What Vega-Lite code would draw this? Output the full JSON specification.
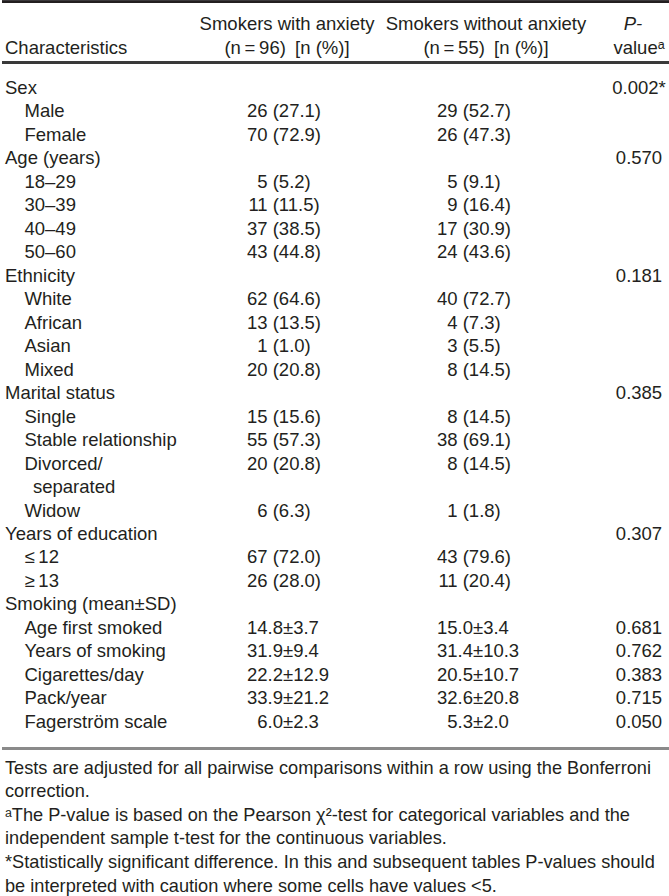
{
  "$schema": "https://vega.github.io/schema/vega-lite/v6.json",
  "padding": 0,
  "spacing": 0,
  "background": "white",
  "config": {
    "view": {"stroke": null},
    "concat": {"spacing": 0},
    "point": {},
    "text": {"font": "Liberation Sans", "fontSize": 18.5, "color": "#231f20", "baseline": "alphabetic"}
  },
  "datasets": {
    "header": [
      {"line": 1, "col": "c2", "text": "Smokers with anxiety"},
      {"line": 2, "col": "c2", "text": "(n\u2009=\u200996)\u2002[n (%)]"},
      {"line": 1, "col": "c3", "text": "Smokers without anxiety"},
      {"line": 2, "col": "c3", "text": "(n\u2009=\u200955)\u2002[n (%)]"},
      {"line": 1, "col": "pv", "text": "P-"},
      {"line": 2, "col": "pv", "text": "value\u1d43"},
      {"line": 2, "col": "lab", "text": "Characteristics"}
    ],
    "body": [
      {"line": 1, "lvl": "L0", "label": "Sex", "pv": "0.002*"},
      {"line": 2, "lvl": "L1", "label": "Male", "n1": "26", "p1": "(27.1)", "n2": "29", "p2": "(52.7)"},
      {"line": 3, "lvl": "L1", "label": "Female", "n1": "70", "p1": "(72.9)", "n2": "26", "p2": "(47.3)"},
      {"line": 4, "lvl": "L0", "label": "Age (years)", "pv": "0.570"},
      {"line": 5, "lvl": "L1", "label": "18\u201329", "n1": "5", "p1": "(5.2)", "n2": "5", "p2": "(9.1)"},
      {"line": 6, "lvl": "L1", "label": "30\u201339", "n1": "11", "p1": "(11.5)", "n2": "9", "p2": "(16.4)"},
      {"line": 7, "lvl": "L1", "label": "40\u201349", "n1": "37", "p1": "(38.5)", "n2": "17", "p2": "(30.9)"},
      {"line": 8, "lvl": "L1", "label": "50\u201360", "n1": "43", "p1": "(44.8)", "n2": "24", "p2": "(43.6)"},
      {"line": 9, "lvl": "L0", "label": "Ethnicity", "pv": "0.181"},
      {"line": 10, "lvl": "L1", "label": "White", "n1": "62", "p1": "(64.6)", "n2": "40", "p2": "(72.7)"},
      {"line": 11, "lvl": "L1", "label": "African", "n1": "13", "p1": "(13.5)", "n2": "4", "p2": "(7.3)"},
      {"line": 12, "lvl": "L1", "label": "Asian", "n1": "1", "p1": "(1.0)", "n2": "3", "p2": "(5.5)"},
      {"line": 13, "lvl": "L1", "label": "Mixed", "n1": "20", "p1": "(20.8)", "n2": "8", "p2": "(14.5)"},
      {"line": 14, "lvl": "L0", "label": "Marital status", "pv": "0.385"},
      {"line": 15, "lvl": "L1", "label": "Single", "n1": "15", "p1": "(15.6)", "n2": "8", "p2": "(14.5)"},
      {"line": 16, "lvl": "L1", "label": "Stable relationship", "n1": "55", "p1": "(57.3)", "n2": "38", "p2": "(69.1)"},
      {"line": 17, "lvl": "L1", "label": "Divorced/", "n1": "20", "p1": "(20.8)", "n2": "8", "p2": "(14.5)"},
      {"line": 18, "lvl": "L2", "label": "separated"},
      {"line": 19, "lvl": "L1", "label": "Widow", "n1": "6", "p1": "(6.3)", "n2": "1", "p2": "(1.8)"},
      {"line": 20, "lvl": "L0", "label": "Years of education", "pv": "0.307"},
      {"line": 21, "lvl": "L1", "label": "\u2264\u200912", "n1": "67", "p1": "(72.0)", "n2": "43", "p2": "(79.6)"},
      {"line": 22, "lvl": "L1", "label": "\u2265\u200913", "n1": "26", "p1": "(28.0)", "n2": "11", "p2": "(20.4)"},
      {"line": 23, "lvl": "L0", "label": "Smoking (mean\u00b1SD)"},
      {"line": 24, "lvl": "L1", "label": "Age first smoked", "m1": "14.8", "s1": "\u00b13.7", "m2": "15.0", "s2": "\u00b13.4", "pv": "0.681"},
      {"line": 25, "lvl": "L1", "label": "Years of smoking", "m1": "31.9", "s1": "\u00b19.4", "m2": "31.4", "s2": "\u00b110.3", "pv": "0.762"},
      {"line": 26, "lvl": "L1", "label": "Cigarettes/day", "m1": "22.2", "s1": "\u00b112.9", "m2": "20.5", "s2": "\u00b110.7", "pv": "0.383"},
      {"line": 27, "lvl": "L1", "label": "Pack/year", "m1": "33.9", "s1": "\u00b121.2", "m2": "32.6", "s2": "\u00b120.8", "pv": "0.715"},
      {"line": 28, "lvl": "L1", "label": "Fagerstr\u00f6m scale", "m1": "6.0", "s1": "\u00b12.3", "m2": "5.3", "s2": "\u00b12.0", "pv": "0.050"}
    ],
    "notes": [
      {"line": 1, "text": "Tests are adjusted for all pairwise comparisons within a row using the Bonferroni"},
      {"line": 2, "text": "correction."},
      {"line": 3, "text": "\u1d43The P-value is based on the Pearson \u03c7\u00b2-test for categorical variables and the"},
      {"line": 4, "text": "independent sample t-test for the continuous variables."},
      {"line": 5, "text": "*Statistically significant difference. In this and subsequent tables P-values should"},
      {"line": 6, "text": "be interpreted with caution where some cells have values <5."}
    ]
  },
  "vconcat": [
    {
      "width": 669,
      "height": 62,
      "data": {"name": "header"},
      "resolve": {"scale": {"x": "independent"}},
      "layer": [
        {
          "mark": {"type": "rule", "color": "#231f20", "strokeWidth": 2},
          "encoding": {"y": {"datum": -0.2, "type": "quantitative", "scale": {"domain": [-0.234, 2.404], "range": [0, 62], "nice": false, "zero": false}, "axis": null}}
        },
        {
          "mark": {"type": "rule", "color": "#3a3a3a", "strokeWidth": 2.2},
          "encoding": {"y": {"datum": 2.392, "type": "quantitative", "scale": {"domain": [-0.234, 2.404], "range": [0, 62], "nice": false, "zero": false}, "axis": null}}
        },
        {
          "transform": [{"filter": "datum.col == 'lab'"}],
          "mark": {"type": "text", "align": "left"},
          "encoding": {
            "x": {"field": "col", "type": "nominal", "scale": {"type": "point", "domain": ["lab"], "range": [3, 3], "padding": 0}, "axis": null},
            "y": {"field": "line", "type": "quantitative", "scale": {"domain": [-0.234, 2.404], "range": [0, 62], "nice": false, "zero": false}, "axis": null},
            "text": {"field": "text"}
          }
        },
        {
          "transform": [{"filter": "datum.col == 'c2' || datum.col == 'c3'"}],
          "mark": {"type": "text", "align": "center"},
          "encoding": {
            "x": {"field": "col", "type": "nominal", "scale": {"type": "point", "domain": ["c2", "c3"], "range": [285, 484], "padding": 0}, "axis": null},
            "y": {"field": "line", "type": "quantitative", "scale": {"domain": [-0.234, 2.404], "range": [0, 62], "nice": false, "zero": false}, "axis": null},
            "text": {"field": "text"}
          }
        },
        {
          "transform": [{"filter": "datum.col == 'pv' && datum.line == 2"}],
          "mark": {"type": "text", "align": "center"},
          "encoding": {
            "x": {"field": "col", "type": "nominal", "scale": {"type": "point", "domain": ["pv"], "range": [637, 637], "padding": 0}, "axis": null},
            "y": {"field": "line", "type": "quantitative", "scale": {"domain": [-0.234, 2.404], "range": [0, 62], "nice": false, "zero": false}, "axis": null},
            "text": {"field": "text"}
          }
        },
        {
          "transform": [{"filter": "datum.col == 'pv' && datum.line == 1"}],
          "mark": {"type": "text", "align": "center", "fontStyle": "italic"},
          "encoding": {
            "x": {"field": "col", "type": "nominal", "scale": {"type": "point", "domain": ["pv"], "range": [631, 631], "padding": 0}, "axis": null},
            "y": {"field": "line", "type": "quantitative", "scale": {"domain": [-0.234, 2.404], "range": [0, 62], "nice": false, "zero": false}, "axis": null},
            "text": {"field": "text"}
          }
        }
      ]
    },
    {
      "width": 669,
      "height": 685,
      "data": {"name": "body"},
      "resolve": {"scale": {"x": "independent"}},
      "layer": [
        {
          "transform": [{"filter": "datum.lvl != 'L2'"}],
          "mark": {"type": "text", "align": "left"},
          "encoding": {
            "x": {"field": "lvl", "type": "nominal", "scale": {"type": "point", "domain": ["L0", "L1"], "range": [3, 22.5], "padding": 0}, "axis": null},
            "y": {"field": "line", "type": "quantitative", "scale": {"domain": [-0.264, 28.897], "range": [0, 685], "nice": false, "zero": false}, "axis": null},
            "text": {"field": "label"}
          }
        },
        {
          "transform": [{"filter": "datum.lvl == 'L2'"}],
          "mark": {"type": "text", "align": "left"},
          "encoding": {
            "x": {"field": "lvl", "type": "nominal", "scale": {"type": "point", "domain": ["L2"], "range": [31, 31], "padding": 0}, "axis": null},
            "y": {"field": "line", "type": "quantitative", "scale": {"domain": [-0.264, 28.897], "range": [0, 685], "nice": false, "zero": false}, "axis": null},
            "text": {"field": "label"}
          }
        },
        {
          "transform": [{"fold": ["n1", "n2"], "as": ["key", "val"]}, {"filter": "isValid(datum.val)"}],
          "mark": {"type": "text", "align": "right"},
          "encoding": {
            "x": {"field": "key", "type": "nominal", "scale": {"type": "point", "domain": ["n1", "n2"], "range": [265.6, 455.6], "padding": 0}, "axis": null},
            "y": {"field": "line", "type": "quantitative", "scale": {"domain": [-0.264, 28.897], "range": [0, 685], "nice": false, "zero": false}, "axis": null},
            "text": {"field": "val"}
          }
        },
        {
          "transform": [{"fold": ["p1", "p2"], "as": ["key", "val"]}, {"filter": "isValid(datum.val)"}],
          "mark": {"type": "text", "align": "left"},
          "encoding": {
            "x": {"field": "key", "type": "nominal", "scale": {"type": "point", "domain": ["p1", "p2"], "range": [270.7, 460.7], "padding": 0}, "axis": null},
            "y": {"field": "line", "type": "quantitative", "scale": {"domain": [-0.264, 28.897], "range": [0, 685], "nice": false, "zero": false}, "axis": null},
            "text": {"field": "val"}
          }
        },
        {
          "transform": [{"fold": ["m1", "m2"], "as": ["key", "val"]}, {"filter": "isValid(datum.val)"}],
          "mark": {"type": "text", "align": "right"},
          "encoding": {
            "x": {"field": "key", "type": "nominal", "scale": {"type": "point", "domain": ["m1", "m2"], "range": [281, 471], "padding": 0}, "axis": null},
            "y": {"field": "line", "type": "quantitative", "scale": {"domain": [-0.264, 28.897], "range": [0, 685], "nice": false, "zero": false}, "axis": null},
            "text": {"field": "val"}
          }
        },
        {
          "transform": [{"fold": ["s1", "s2"], "as": ["key", "val"]}, {"filter": "isValid(datum.val)"}],
          "mark": {"type": "text", "align": "left"},
          "encoding": {
            "x": {"field": "key", "type": "nominal", "scale": {"type": "point", "domain": ["s1", "s2"], "range": [281, 471], "padding": 0}, "axis": null},
            "y": {"field": "line", "type": "quantitative", "scale": {"domain": [-0.264, 28.897], "range": [0, 685], "nice": false, "zero": false}, "axis": null},
            "text": {"field": "val"}
          }
        },
        {
          "transform": [{"fold": ["pv"], "as": ["key", "val"]}, {"filter": "isValid(datum.val)"}],
          "mark": {"type": "text", "align": "center"},
          "encoding": {
            "x": {"field": "key", "type": "nominal", "scale": {"type": "point", "domain": ["pv"], "range": [637, 637], "padding": 0}, "axis": null},
            "y": {"field": "line", "type": "quantitative", "scale": {"domain": [-0.264, 28.897], "range": [0, 685], "nice": false, "zero": false}, "axis": null},
            "text": {"field": "val"}
          }
        },
        {
          "mark": {"type": "rule", "color": "#8a8a8a", "strokeWidth": 2.4},
          "encoding": {"y": {"datum": 28.88, "type": "quantitative", "scale": {"domain": [-0.264, 28.897], "range": [0, 685], "nice": false, "zero": false}, "axis": null}}
        }
      ]
    },
    {
      "width": 669,
      "height": 149,
      "data": {"name": "notes"},
      "mark": {"type": "text", "align": "left", "fontSize": 18.2},
      "encoding": {
        "x": {"datum": "lab", "type": "nominal", "scale": {"type": "point", "domain": ["lab"], "range": [3, 3], "padding": 0}, "axis": null},
        "y": {"field": "line", "type": "quantitative", "scale": {"domain": [-0.021, 6.319], "range": [0, 149], "nice": false, "zero": false}, "axis": null},
        "text": {"field": "text"}
      }
    }
  ]
}
